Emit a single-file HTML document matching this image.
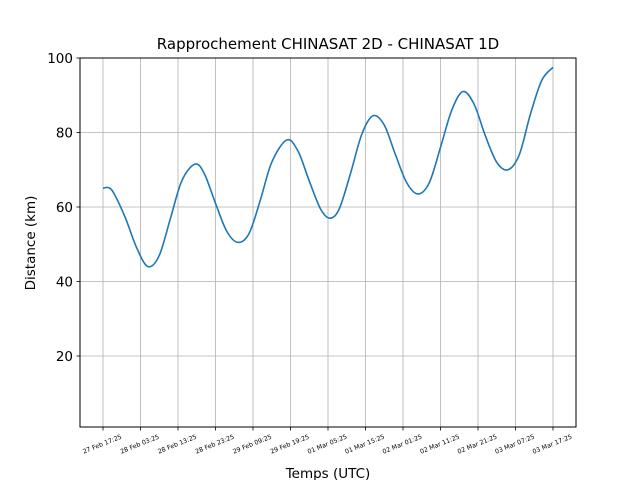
<!DOCTYPE html>
<html><head><meta charset="utf-8"><style>
body{margin:0;background:#fff}
svg{display:block;font-family:"DejaVu Sans","Liberation Sans",sans-serif}
</style></head><body>
<svg id="chart" width="640" height="480" viewBox="0 0 640 480">
<rect width="640" height="480" fill="#fff"/>
<text x="328" y="49" text-anchor="middle" font-size="15" fill="#000">Rapprochement CHINASAT 2D - CHINASAT 1D</text>
<g id="grid"></g>
<path id="line" fill="none" stroke="#1f77b4" stroke-width="1.6"/>
<rect x="80" y="58" width="496" height="369" fill="none" stroke="#000" stroke-width="1"/>
<g id="ticks"></g>
<text x="328" y="478" text-anchor="middle" font-size="13.5">Temps (UTC)</text>
<text transform="translate(35,243) rotate(-90)" text-anchor="middle" font-size="13.5">Distance (km)</text>
</svg>
<script>
const hours=[0,1.5,3,6,9,12,15,18,21,24.5,27,30,33,36,39,42,45,49,52,55,58,60.5,63,66,69,72,75,78,81,84,87,90,93,96,99,102,105,108,111,114,117,120];
const distances=[65,65.2,63.5,57,49,44,47,57,67,71.5,69,61,53.5,50.5,53,62,72,78,75,67,59.5,57,59.5,69,79.5,84.5,82,74,66.5,63.5,66.5,76,86,91,87.5,79,72,70,74,85,94,97.5];
const xTickLabels=["27 Feb 17:25","28 Feb 03:25","28 Feb 13:25","28 Feb 23:25","29 Feb 09:25","29 Feb 19:25","01 Mar 05:25","01 Mar 15:25","02 Mar 01:25","02 Mar 11:25","02 Mar 21:25","03 Mar 07:25","03 Mar 17:25"];
const xTickHours=[0,10,20,30,40,50,60,70,80,90,100,110,120];
const yTicks=[20,40,60,80,100];
const NS="http://www.w3.org/2000/svg";
const X=h=>103+h*(450/120);
const Y=v=>58+(100-v)*(298/80);
function mk(t,a,p){const e=document.createElementNS(NS,t);for(const k in a)e.setAttribute(k,a[k]);p.appendChild(e);return e;}
const grid=document.getElementById('grid'),ticks=document.getElementById('ticks');
xTickHours.forEach((h,i)=>{
 const gl=mk('line',{x1:X(h),x2:X(h),y1:58,y2:427,stroke:'#b0b0b0','stroke-width':0.8},grid);
 
 
 const tk=mk('line',{x1:X(h),x2:X(h),y1:427,y2:430.5,stroke:'#000','stroke-width':0.8},ticks);
 
 
 const t=mk('text',{transform:`translate(${X(h)},${446}) rotate(-22)`,'text-anchor':'middle','font-size':'6.3',fill:'#000'},ticks);
 t.textContent=xTickLabels[i];
 
 
});
yTicks.forEach(v=>{
 const gl=mk('line',{x1:80,x2:576,y1:Y(v),y2:Y(v),stroke:'#b0b0b0','stroke-width':0.8},grid);
 
 
 const tk=mk('line',{x1:76.5,x2:80,y1:Y(v),y2:Y(v),stroke:'#000','stroke-width':0.8},ticks);
 
 
 const t=mk('text',{x:73,y:Y(v)+4.8,'text-anchor':'end','font-size':'13.5',fill:'#000'},ticks);
 t.textContent=v;
 
 
});
const pts=hours.map((h,i)=>[X(h),Y(distances[i])]);
let d=`M${pts[0][0]},${pts[0][1]}`;
for(let i=0;i<pts.length-1;i++){
 const p0=pts[Math.max(0,i-1)],p1=pts[i],p2=pts[i+1],p3=pts[Math.min(pts.length-1,i+2)];
 const c1=[p1[0]+(p2[0]-p0[0])/6,p1[1]+(p2[1]-p0[1])/6];
 const c2=[p2[0]-(p3[0]-p1[0])/6,p2[1]-(p3[1]-p1[1])/6];
 d+=` C${c1[0]},${c1[1]} ${c2[0]},${c2[1]} ${p2[0]},${p2[1]}`;
}
document.getElementById('line').setAttribute('d',d);
</script>
</body></html>
